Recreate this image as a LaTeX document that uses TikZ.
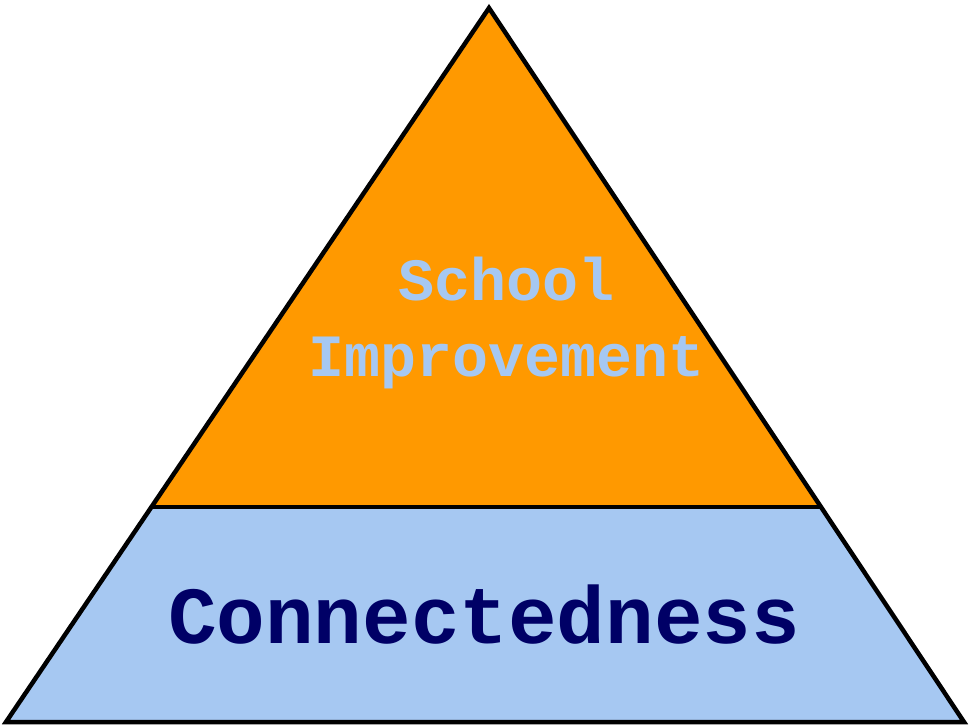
\documentclass[tikz,border=0pt]{standalone}
\usepackage{fontspec}
\setmonofont{Liberation Mono}
\definecolor{pyrorange}{HTML}{FF9900}
\definecolor{pyrblue}{HTML}{A6C8F2}
\definecolor{pyrnavy}{HTML}{000066}
\begin{document}
\begin{tikzpicture}[x=1pt,y=-1pt,
  edge/.style={draw=black,line width=4.5pt,line join=miter},
  toptext/.style={font=\ttfamily\bfseries\fontsize{60}{76}\selectfont,text=pyrblue,align=center,inner sep=0pt},
  bottext/.style={font=\ttfamily\bfseries\fontsize{81}{90}\selectfont,text=pyrnavy,inner sep=0pt}]
\useasboundingbox (0,0) rectangle (970,728);
\coordinate (apex) at (489,8);
\coordinate (bl) at (6,722);
\coordinate (br) at (964,722);
\coordinate (ml) at (151.4,507);
\coordinate (mr) at (821,507);
\fill[pyrorange] (apex) -- (ml) -- (mr) -- cycle;
\fill[pyrblue] (ml) -- (bl) -- (br) -- (mr) -- cycle;
\draw[edge] (ml) -- (mr);
\draw[edge] (apex) -- (bl) -- (br) -- cycle;
\node[toptext,anchor=base] (school) at (507,300) {School};
\node[toptext,anchor=base] (impr) at (507,376) {Improvement};
\node[bottext,anchor=base] (conn) at (484,643) {Connectedness};
\end{tikzpicture}
\end{document}
